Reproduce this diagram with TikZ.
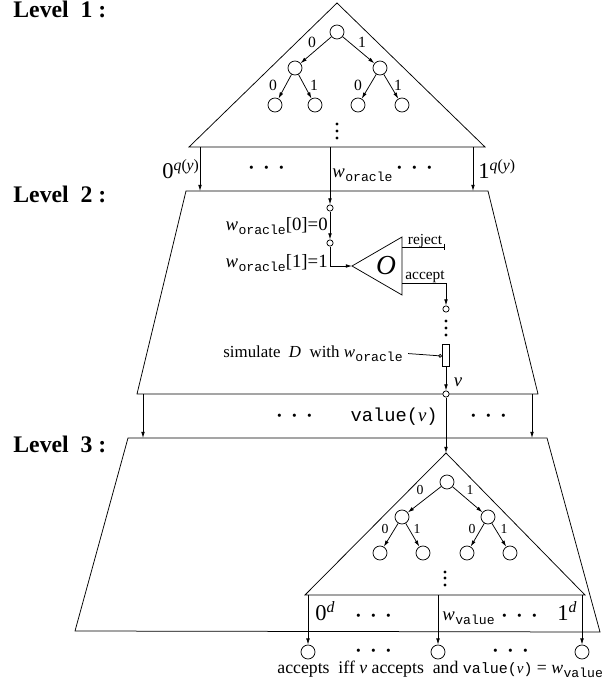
\documentclass[tikz,border=0pt]{standalone}
\usepackage{fontspec}
\setmainfont{Liberation Serif}
\setmonofont{Liberation Mono}
\usetikzlibrary{arrows.meta}
\newcommand{\wsub}[1]{\textit{w}\kern0.3pt\raisebox{-3.2pt}{\fontsize{10.5}{12}\selectfont\ttfamily #1}}
\newcommand{\hdts}{${\cdot}\hspace{5.3pt}{\cdot}\hspace{5.3pt}{\cdot}$}
\begin{document}
\begin{tikzpicture}[x=0.8pt,y=-0.8pt,line width=0.6pt,
  >={Latex[length=5pt,width=3pt]},
  tn/.style={circle,draw,minimum size=11.2pt,inner sep=0pt},
  sc/.style={circle,draw,fill=white,minimum size=5pt,inner sep=0pt},
  lvl/.style={font=\fontsize{19}{22}\selectfont\bfseries,anchor=base west,inner sep=0pt},
  elab/.style={font=\fontsize{12.5}{14}\selectfont,inner sep=0pt},
  elabs/.style={font=\fontsize{11}{13}\selectfont,inner sep=0pt},
  big/.style={font=\fontsize{18}{20}\selectfont,inner sep=0pt},
  mid/.style={font=\fontsize{15}{18}\selectfont,inner sep=0pt},
  txt/.style={font=\fontsize{12.3}{14}\selectfont,inner sep=0pt},
  dts/.style={font=\fontsize{24}{26}\selectfont,inner sep=0pt},
  vd/.style={fill,circle,inner sep=0pt,minimum size=2.6pt}]
\useasboundingbox (0,0) rectangle (610,693);

% level labels
\node[lvl] (L1) at (13,18) {Level\ \ 1\ :};
\node[lvl] (L2) at (13,202) {Level\ \ 2\ :};
\node[lvl] (L3) at (13,452) {Level\ \ 3\ :};

% ---------- Level 1 ----------
\coordinate (t1a) at (337,3);
\coordinate (t1l) at (189,147);
\coordinate (t1r) at (485,147);
\draw (t1a) -- (t1l) -- (t1r) -- cycle;
\node[tn] (r1) at (337,32) {};
\node[tn] (a1) at (295,68) {};
\node[tn] (b1) at (380,68) {};
\node[tn] (a1l) at (275,105) {};
\node[tn] (a1r) at (315,105) {};
\node[tn] (b1l) at (358,105) {};
\node[tn] (b1r) at (402,105) {};
\draw[->] (r1) -- (a1);
\draw[->] (r1) -- (b1);
\draw[->] (a1) -- (a1l);
\draw[->] (a1) -- (a1r);
\draw[->] (b1) -- (b1l);
\draw[->] (b1) -- (b1r);
\node[elab] (e10) at (312,42) {0};
\node[elab] (e11) at (362,42) {1};
\node[elab] (e1a0) at (273,85) {0};
\node[elab] (e1a1) at (314,85) {1};
\node[elab] (e1b0) at (358,85) {0};
\node[elab] (e1b1) at (398,85) {1};
\node[vd] (v1a) at (337,124) {};
\node[vd] (v1b) at (337,131) {};
\node[vd] (v1c) at (337,138) {};

% outputs of level 1
\coordinate (o1l) at (200,147);
\coordinate (o1m) at (330,147);
\coordinate (o1r) at (473,147);
\coordinate (i2l) at (200,191);
\coordinate (i2r) at (473,191);
\node[big,anchor=base west] (q0) at (162,178) {0\textsuperscript{\textit{q}(\textit{y})}};
\node[big,anchor=base west] (q1) at (478,178) {1\textsuperscript{\textit{q}(\textit{y})}};
\node[dts] (d1a) at (267,169) {\hdts};
\node[mid,anchor=base west] (wo1) at (332,177) {\wsub{oracle}};
\node[dts] (d1b) at (415,169) {\hdts};

% ---------- Level 2 ----------
\coordinate (p2a) at (186,191);
\coordinate (p2b) at (488,191);
\coordinate (p2c) at (538,394);
\coordinate (p2d) at (137,394);
\draw (p2a) -- (p2b) -- (p2c) -- (p2d) -- cycle;
\draw[->] (o1l) -- (i2l);
\draw[->] (o1r) -- (i2r);
\node[sc] (c1) at (330,208) {};
\node[sc] (c2) at (330,243) {};
\draw[->] (o1m) -- (c1);
\draw[->] (c1) -- (c2);
\node[mid,anchor=base east] (w0) at (328,230) {\wsub{oracle}[0]=0};
\node[mid,anchor=base east] (w1) at (328,267) {\wsub{oracle}[1]=1};
\coordinate (otip) at (352,266);
\coordinate (otop) at (402,237);
\coordinate (obot) at (402,295);
\draw (otip) -- (otop) -- (obot) -- cycle;
\node[font=\fontsize{22}{24}\selectfont\itshape,inner sep=0pt] (O) at (386,266) {O};
\draw[->] (c2) |- (otip);
\coordinate (rj1) at (402,247);
\coordinate (rj2) at (445,247);
\draw[-{Bar[width=5.5pt]}] (rj1) -- (rj2);
\node[txt,anchor=base] (rjt) at (425,244) {reject};
\coordinate (ac1) at (402,283);
\coordinate (ac2) at (446,283);
\node[sc] (c3) at (446,309) {};
\draw[->] (ac1) -- (ac2) -- (c3);
\node[txt,anchor=base] (act) at (425,279) {accept};
\node[vd] (v2a) at (446,321) {};
\node[vd] (v2b) at (446,328) {};
\node[vd] (v2c) at (446,335) {};
\node[draw,minimum width=5.6pt,minimum height=17.6pt,inner sep=0pt] (sim) at (446,355) {};
\node[font=\fontsize{13.5}{15}\selectfont,inner sep=0pt,anchor=base west] (simt) at (223,357) {simulate\ \ \textit{D}\ \ with\ \wsub{oracle}};
\coordinate (simp) at (442,356);
\draw[shorten <=4pt,-{Circle[open,length=3pt]}] (simt.east) -- (simp);
\node[sc] (vv) at (446,394) {};
\draw[->] (sim) -- (vv);
\node[mid,font=\fontsize{15}{18}\selectfont\itshape] (vl) at (458,382) {v};

% between level 2 and 3
\coordinate (o2l) at (143,394);
\coordinate (o2r) at (532,394);
\coordinate (i3l) at (143,438);
\coordinate (i3r) at (532,438);
\draw[->] (o2l) -- (i3l);
\draw[->] (o2r) -- (i3r);
\node[dts] (d2a) at (295,417) {\hdts};
\node[mid,anchor=base east] (val) at (438,421) {\texttt{value(}\textit{v}\texttt{)}};
\node[dts] (d2b) at (489,417) {\hdts};

% ---------- Level 3 ----------
\coordinate (p3a) at (128,438);
\coordinate (p3b) at (547,438);
\coordinate (p3c) at (600,632);
\coordinate (p3d) at (75,631);
\draw (p3a) -- (p3b) -- (p3c) -- (p3d) -- cycle;
\coordinate (t3a) at (446,453);
\coordinate (t3l) at (305,595);
\coordinate (t3r) at (585,595);
\draw (t3a) -- (t3l) -- (t3r) -- cycle;
\draw[->] (vv) -- (t3a);
\node[tn] (r3) at (447,482) {};
\node[tn] (a3) at (402,517) {};
\node[tn] (b3) at (488,517) {};
\node[tn] (a3l) at (380,553) {};
\node[tn] (a3r) at (423,553) {};
\node[tn] (b3l) at (467,553) {};
\node[tn] (b3r) at (510,553) {};
\draw[->] (r3) -- (a3);
\draw[->] (r3) -- (b3);
\draw[->] (a3) -- (a3l);
\draw[->] (a3) -- (a3r);
\draw[->] (b3) -- (b3l);
\draw[->] (b3) -- (b3r);
\node[elabs] (e30) at (420,490) {0};
\node[elabs] (e31) at (470,490) {1};
\node[elabs] (e3a0) at (385,529) {0};
\node[elabs] (e3a1) at (417,529) {1};
\node[elabs] (e3b0) at (472,529) {0};
\node[elabs] (e3b1) at (504,529) {1};
\node[vd] (v3a) at (445,572) {};
\node[vd] (v3b) at (445,578) {};
\node[vd] (v3c) at (445,585) {};

\coordinate (o3l) at (308,595);
\coordinate (o3m) at (438,595);
\coordinate (o3r) at (582,595);
\node[tn] (f1) at (308,652) {};
\node[tn] (f2) at (438,652) {};
\node[tn] (f3) at (582,652) {};
\draw[->] (o3l) -- (f1);
\draw[->] (o3m) -- (f2);
\draw[->] (o3r) -- (f3);
\node[big,anchor=base west] (z0) at (315,620) {0\textsuperscript{\textit{d}}};
\node[dts] (d3a) at (374,617) {\hdts};
\node[mid,anchor=base west] (wv) at (442,620) {\wsub{value}};
\node[dts] (d3b) at (520,617) {\hdts};
\node[big,anchor=base west] (z1) at (557,620) {1\textsuperscript{\textit{d}}};
\node[dts] (d4a) at (374,652) {\hdts};
\node[dts] (d4b) at (511,652) {\hdts};
\node[font=\fontsize{14.2}{16}\selectfont,anchor=base west,inner sep=0pt] (acc) at (277,673)
  {accepts\ \ iff \textit{v} accepts\ \ and {\fontsize{12}{14}\selectfont\texttt{value(}\textit{v}\texttt{)}} = \wsub{value}};
\end{tikzpicture}
\end{document}
